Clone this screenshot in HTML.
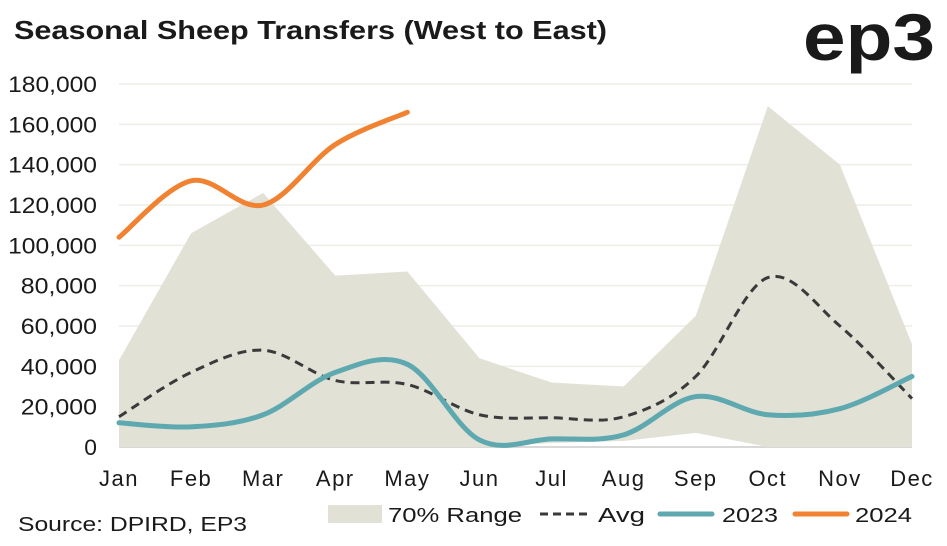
<!DOCTYPE html>
<html><head><meta charset="utf-8"><style>
body{margin:0;background:#fff;font-family:"Liberation Sans",sans-serif}
</style></head><body>
<svg width="947" height="541" xmlns="http://www.w3.org/2000/svg">
<text x="14" y="39" font-size="26" font-weight="bold" fill="#1a1a1a" textLength="593" lengthAdjust="spacingAndGlyphs">Seasonal Sheep Transfers (West to East)</text>
<text x="803" y="60" font-size="66" font-weight="bold" fill="#1a1a1a" textLength="132" lengthAdjust="spacingAndGlyphs">ep3</text>
<g id="grid"></g>
<g id="yaxis"></g>
<g id="xaxis"></g>
<g id="plot"></g>
<text x="18" y="531" font-size="20" fill="#1a1a1a" textLength="229" lengthAdjust="spacingAndGlyphs">Source: DPIRD, EP3</text>
<g>
<g><rect x="328" y="505" width="54" height="18" fill="#e2e1d6"/><text x="388" y="522" font-size="20" fill="#1a1a1a" textLength="134" lengthAdjust="spacingAndGlyphs">70% Range</text></g>
<g><line x1="540" y1="514" x2="592" y2="514" stroke="#3a3a3a" stroke-width="3" stroke-dasharray="8,5"/><text x="598" y="522" font-size="20" fill="#1a1a1a" textLength="47" lengthAdjust="spacingAndGlyphs">Avg</text></g>
<g><line x1="660" y1="514" x2="712" y2="514" stroke="#5ea8b0" stroke-width="5" stroke-linecap="round"/><text x="722" y="522" font-size="20" fill="#1a1a1a" textLength="56" lengthAdjust="spacingAndGlyphs">2023</text></g>
<g><line x1="795" y1="514" x2="847" y2="514" stroke="#f08232" stroke-width="5" stroke-linecap="round"/><text x="855" y="522" font-size="20" fill="#1a1a1a" textLength="57" lengthAdjust="spacingAndGlyphs">2024</text></g>
</g>
</svg>
<script>
const months=["Jan","Feb","Mar","Apr","May","Jun","Jul","Aug","Sep","Oct","Nov","Dec"];
const yTicks=[0,20000,40000,60000,80000,100000,120000,140000,160000,180000];
const rangeUpper=[43000,106000,126000,85000,87000,44000,32000,30000,65000,169000,140000,51000];
const rangeLower=[0,0,0,0,0,0,2000,3000,7000,0,0,0];
const avg=[15000,37000,48000,33000,31000,16000,14500,15000,35000,84000,60000,24000];
const s2023=[12000,10000,16000,37000,41000,3500,4000,6000,25000,16000,19000,35000];
const s2024=[104000,132000,120000,150000,166000];
const NS="http://www.w3.org/2000/svg";
const x=i=>119+i*(912-119)/11;
const y=v=>447-v*(447-84)/180000;
function mk(t,a,p){const e=document.createElementNS(NS,t);for(const k in a)e.setAttribute(k,a[k]);document.getElementById(p).appendChild(e);return e;}
yTicks.forEach(v=>{
 const g=mk("line",{x1:119,x2:912,y1:y(v),y2:y(v),stroke:v===0?"#d8d8d8":"#eeeee6","stroke-width":v===0?2:1.5},"grid");
 
 
 const s=v.toLocaleString("en-US");
 const t=mk("text",{x:97,y:y(v)+8,"font-size":22,fill:"#1a1a1a","text-anchor":"end",textLength:s.length*12.7,lengthAdjust:"spacingAndGlyphs"},"yaxis");
 t.textContent=s;
 
 
});
months.forEach((m,i)=>{
 const t=mk("text",{x:x(i),y:486,"font-size":22,fill:"#1a1a1a","text-anchor":"middle","letter-spacing":1.5},"xaxis");
 t.textContent=m;
 
 
});
let d="M"+rangeUpper.map((v,i)=>x(i)+","+y(v)).join("L");
for(let i=rangeLower.length-1;i>=0;i--)d+="L"+x(i)+","+y(rangeLower[i]);
const area=mk("path",{d:d+"Z",fill:"#e2e1d6"},"plot");


function smooth(vals){
 const p=vals.map((v,i)=>[x(i),y(v)]);
 let s="M"+p[0].join(",");
 for(let i=0;i<p.length-1;i++){
  const p0=p[i-1]||p[i],p1=p[i],p2=p[i+1],p3=p[i+2]||p2;
  const c1=[p1[0]+(p2[0]-p0[0])/6,p1[1]+(p2[1]-p0[1])/6];
  const c2=[p2[0]-(p3[0]-p1[0])/6,p2[1]-(p3[1]-p1[1])/6];
  s+="C"+c1.join(",")+" "+c2.join(",")+" "+p2.join(",");
 }
 return s;
}
const a=mk("path",{d:smooth(avg),fill:"none",stroke:"#3a3a3a","stroke-width":3,"stroke-dasharray":"9,6"},"plot");


const l3=mk("path",{d:smooth(s2023),fill:"none",stroke:"#5ea8b0","stroke-width":5,"stroke-linecap":"round"},"plot");


const l4=mk("path",{d:smooth(s2024),fill:"none",stroke:"#f08232","stroke-width":5,"stroke-linecap":"round"},"plot");


</script>
</body></html>
